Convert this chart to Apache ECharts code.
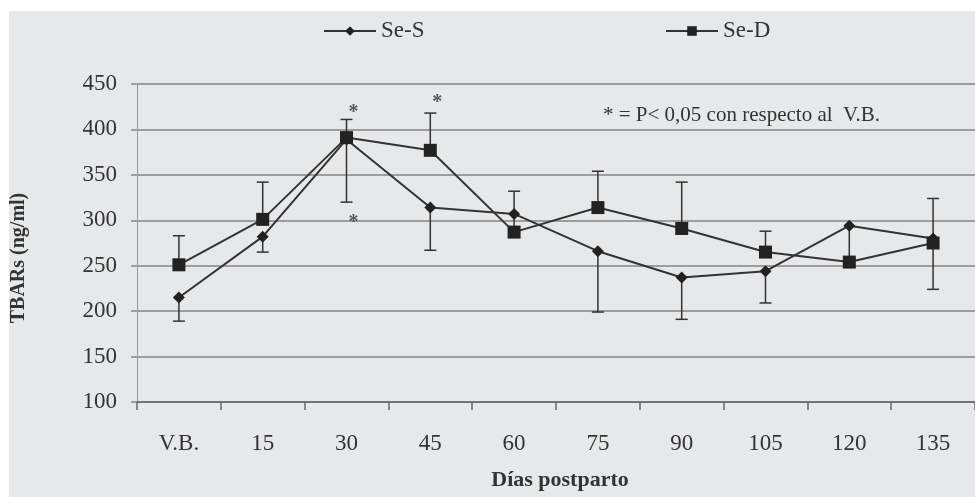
<!DOCTYPE html>
<html>
<head>
<meta charset="utf-8">
<script src="https://cdn.jsdelivr.net/npm/echarts@6/dist/echarts.min.js"></script>
<style>
  html, body { margin: 0; padding: 0; background: #fff; }
  #chart { width: 975px; height: 497px; background: #e7e8ea; box-shadow: inset 9px 11px 0 #fff; }
</style>
</head>
<body>
<div id="chart"></div>
<script>
// ---- data ----
const categories = ['V.B.', '15', '30', '45', '60', '75', '90', '105', '120', '135'];
const seS = [215, 282, 389, 314, 307, 266, 237, 244, 294, 280];
const seD = [251, 301, 391, 377, 287, 314, 291, 265, 254, 275];
const seSErrLow = [189, 265, 320, 267, null, 199, 191, 209, 258, 224];
const seDErrHigh = [283, 342, 411, 418, 332, 354, 342, 288, null, 324];
const sigCat = [2, 2, 3];
const sigVal = [422, 301, 433];
const yTicks = [100, 150, 200, 250, 300, 350, 400, 450];

const FONT = 'Liberation Serif';
const INK = '#222';
const GRID = '#858585';

const chart = echarts.init(document.getElementById('chart'), null, { renderer: 'canvas' });

function errRender(params, api) {
  const x = api.value(0), v0 = api.value(1), v1 = api.value(2);
  const p0 = api.coord([x, v0]), p1 = api.coord([x, v1]);
  const w = 6;
  return {
    type: 'group',
    children: [
      { type: 'line', shape: { x1: p0[0], y1: p0[1], x2: p1[0], y2: p1[1] }, style: { stroke: '#333', lineWidth: 1.5 } },
      { type: 'line', shape: { x1: p1[0] - w, y1: p1[1], x2: p1[0] + w, y2: p1[1] }, style: { stroke: '#333', lineWidth: 1.5 } }
    ]
  };
}

const errS = categories.map((c, i) => [i, seS[i], seSErrLow[i]]).filter(d => d[2] != null);
const errD = categories.map((c, i) => [i, seD[i], seDErrHigh[i]]).filter(d => d[2] != null);
const sigData = sigCat.map((c, i) => [c, sigVal[i]]);

chart.setOption({
  backgroundColor: 'transparent',
  animation: false,
  textStyle: { fontFamily: FONT },
  grid: { left: 137, right: -8, top: 84, bottom: 95, containLabel: false },
  legend: [
    {
      data: ['Se-S'], left: 323, top: 19, itemWidth: 52, itemHeight: 12, padding: 0,
      textStyle: { fontFamily: FONT, fontSize: 23, color: '#333', lineHeight: 24 }
    },
    {
      data: ['Se-D'], left: 665, top: 19, itemWidth: 52, itemHeight: 12, padding: 0,
      textStyle: { fontFamily: FONT, fontSize: 23, color: '#333', lineHeight: 24 }
    }
  ],
  xAxis: {
    type: 'category',
    data: categories,
    boundaryGap: true,
    axisLine: { show: true, lineStyle: { color: '#666', width: 1.5 } },
    axisTick: { show: true, length: 8, lineStyle: { color: '#666', width: 1.5 } },
    axisLabel: { fontFamily: FONT, fontSize: 23, color: '#333', margin: 30 },
    splitLine: { show: false }
  },
  yAxis: {
    type: 'value',
    min: yTicks[0], max: yTicks[yTicks.length - 1], interval: 50,
    axisLine: { show: true, lineStyle: { color: '#999', width: 1 } },
    axisTick: { show: true, length: 6, lineStyle: { color: GRID, width: 1.5 } },
    axisLabel: { fontFamily: FONT, fontSize: 23, color: '#333', margin: 20 },
    splitLine: { show: true, lineStyle: { color: GRID, width: 1.5 } }
  },
  graphic: [
    { type: 'text', left: 603, top: 105, style: { text: '* = P< 0,05 con respecto al  V.B.', font: '21px "Liberation Serif"', fill: '#333' } },
    { type: 'text', x: 560, y: 480, style: { text: 'Días postparto', font: 'bold 22px "Liberation Serif"', fill: '#333', textAlign: 'center', textVerticalAlign: 'middle' } },
    { type: 'text', x: 19, y: 258, rotation: Math.PI / 2, style: { text: 'TBARs (ng/ml)', font: 'bold 20px "Liberation Serif"', fill: '#333', textAlign: 'center', textVerticalAlign: 'middle' } }
  ],
  series: [
    {
      name: 'errS', type: 'custom', renderItem: errRender, data: errS, encode: { x: 0, y: [1, 2] }, z: 1, silent: true
    },
    {
      name: 'errD', type: 'custom', renderItem: errRender, data: errD, encode: { x: 0, y: [1, 2] }, z: 1, silent: true
    },
    {
      name: 'Se-S', type: 'line', data: seS, symbol: 'diamond', symbolSize: 12, z: 3,
      lineStyle: { color: '#333', width: 2 }, itemStyle: { color: INK }
    },
    {
      name: 'Se-D', type: 'line', data: seD, symbol: 'rect', symbolSize: 13, z: 3,
      lineStyle: { color: '#333', width: 2 }, itemStyle: { color: INK }
    },
    {
      name: 'sig', type: 'scatter', data: sigData, symbolSize: 2, itemStyle: { color: 'rgba(0,0,0,0)' }, z: 4, silent: true,
      label: { show: true, formatter: '*', position: 'inside', offset: [7, 3], fontFamily: FONT, fontWeight: 'bold', fontSize: 20, color: '#333' }
    }
  ]
});
</script>
</body>
</html>
